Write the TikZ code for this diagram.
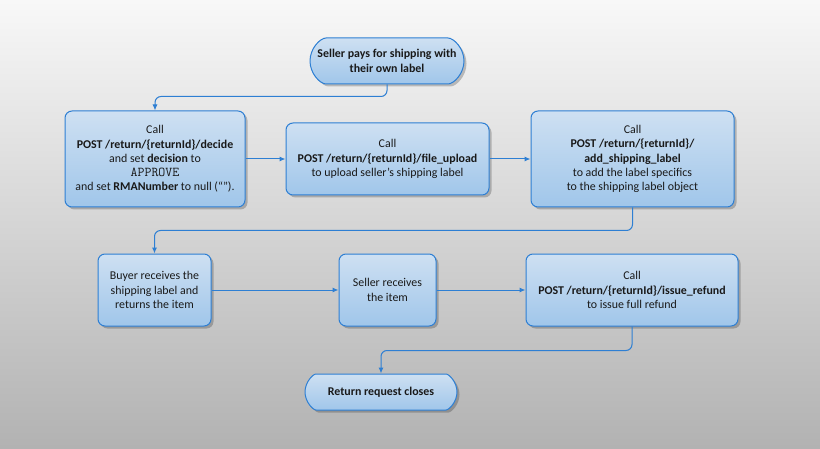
\documentclass[tikz,border=0pt]{standalone}
\usepackage{fontspec}
\setmainfont{Carlito}
\usetikzlibrary{arrows.meta,shadows,shapes.misc}

\definecolor{edge}{HTML}{2E7FD3}
\definecolor{boxtop}{HTML}{CEE0F2}
\definecolor{boxbot}{HTML}{A0C6EA}
\definecolor{bgtop}{HTML}{F8F8F8}
\definecolor{bgbot}{HTML}{B2B2B2}

\begin{document}
\begin{tikzpicture}[x=1pt,y=1pt,
  box/.style={draw=edge, line width=1pt, rounded corners=7pt, top color=boxtop, bottom color=boxbot,
    align=center, inner sep=2pt, text=black!90, font=\fontsize{11.9}{14.3}\selectfont,
    drop shadow={shadow xshift=2.5pt, shadow yshift=-2.5pt, fill=black, opacity=.22}},
  pill/.style={box, rounded rectangle, font=\fontsize{11.9}{14.3}\selectfont\bfseries},
  flow/.style={draw=edge, line width=1pt, rounded corners=6pt, -{Latex[length=6pt,width=5pt]}}]
%----background--------------------------------
\useasboundingbox (0,0) rectangle (820,448);
\fill[top color=bgtop, bottom color=bgbot] (0,0) rectangle (820,448);
%----first row---------------------------------
\node[pill, minimum width=158, minimum height=46] (start) at (387,387)
    {Seller pays for shipping with\\their own label};
\node[box, minimum width=180, minimum height=96] (decide) at (155,289)
    {Call\\\textbf{POST /return/\{returnId\}/decide}\\and set \textbf{decision} to\\
     {\fontsize{13.5}{14.3}\ttfamily APPROVE}\\and set \textbf{RMANumber} to null (“”).};
\node[box, minimum width=203, minimum height=72] (upload) at (387.5,289)
    {Call\\\textbf{POST /return/\{returnId\}/file\_upload}\\to upload seller’s shipping label};
\node[box, minimum width=203, minimum height=96] (addlabel) at (632.5,289)
    {Call\\\textbf{POST /return/\{returnId\}/}\\\textbf{add\_shipping\_label}\\
     to add the label specifics\\to the shipping label object};
%----second row--------------------------------
\node[box, minimum width=113, minimum height=72] (buyer) at (154.5,158)
    {Buyer receives the\\shipping label and\\returns the item};
\node[box, minimum width=97, minimum height=72] (sellerrx) at (387.5,158)
    {Seller receives\\the item};
\node[box, minimum width=212, minimum height=72] (refund) at (632,158)
    {Call\\\textbf{POST /return/\{returnId\}/issue\_refund}\\to issue full refund};
\node[pill, minimum width=156, minimum height=36] (close) at (381,56)
    {Return request closes};
%----connectors--------------------------------
\draw[flow] (start.south) -- ++(0,-12) -| (decide.north);
\draw[flow] (decide.east) -- (upload.west);
\draw[flow] (upload.east) -- (addlabel.west);
\draw[flow] (addlabel.south) -- ++(0,-23) -| (buyer.north);
\draw[flow] (buyer.east) -- (sellerrx.west);
\draw[flow] (sellerrx.east) -- (refund.west);
\draw[flow] (refund.south) -- ++(0,-24) -| (close.north);
\end{tikzpicture}
\end{document}
